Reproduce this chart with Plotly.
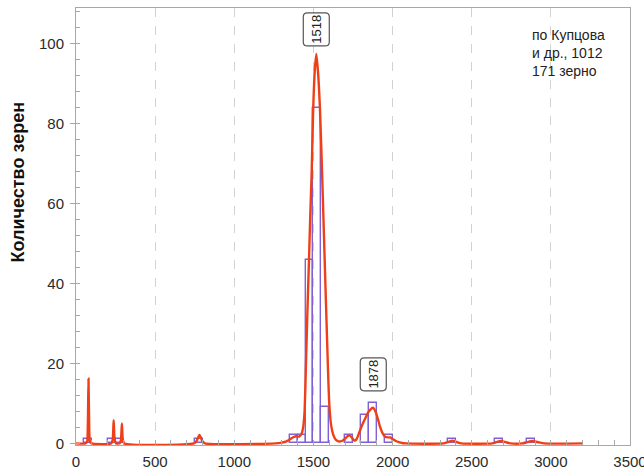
import plotly.graph_objects as go

# Histogram of grain ages (bin width 50 Ma): left edges and counts
bin_width = 50
bin_left = [50, 200, 250, 750, 1350, 1400, 1450, 1500, 1550, 1700, 1800, 1850, 1950, 2350, 2650, 2850]
bin_count = [1, 1, 1, 1, 2, 2, 46, 84, 9, 2, 7, 10, 2, 1, 1, 1]

# Probability density curve (age, value)
kde_age = [0, 60, 70, 75, 79, 83, 88, 98,
           222, 232, 238, 244, 254, 276, 284, 290, 296, 305,
           745, 762, 780, 798, 815,
           1260, 1300, 1330, 1355, 1375, 1392, 1410, 1425, 1435, 1444, 1453, 1462,
           1472, 1480, 1489, 1498, 1508, 1518, 1529, 1542, 1556, 1571, 1587, 1600,
           1612, 1625, 1640, 1658, 1680, 1700, 1715, 1728, 1742, 1758, 1772, 1790,
           1810, 1830, 1850, 1865, 1878, 1892, 1908, 1922, 1940, 1955, 1970, 1985,
           2000, 2020, 2040, 2060, 2085,
           2320, 2350, 2378, 2405, 2435,
           2630, 2655, 2685, 2715, 2745,
           2820, 2850, 2880, 2915, 2960, 3200]
kde_value = [0, 0, 0.4, 5, 16.2, 5, 0.4, 0,
             0, 1.0, 5.8, 1.0, 0, 0, 0.9, 5.0, 0.9, 0,
             0, 0.6, 2.1, 0.6, 0,
             0, 0.2, 0.5, 1.1, 1.6, 1.8, 1.7, 2.4, 4, 8, 20, 33,
             46, 57, 68, 83, 93, 97.5, 93, 83, 66, 46, 25, 10,
             4.5, 2.2, 1.0, 0.5, 0.6, 1.2, 1.8, 2.0, 1.5, 0.7, 1.0, 2.8,
             4.8, 6.5, 8.0, 8.7, 8.9, 8.0, 6.0, 4.0, 2.3, 1.6, 1.5, 1.5,
             1.1, 0.6, 0.3, 0.1, 0,
             0, 0.35, 0.7, 0.35, 0,
             0, 0.3, 0.6, 0.3, 0,
             0, 0.3, 0.6, 0.35, 0, 0]

# Peak labels
peak_ages = [1518, 1878]
peak_gap_px = [8, 17]

source_text = "по Купцова<br>и др., 1012<br>171 зерно"
y_title = "Количество зерен"

FONT = "Liberation Sans, Arial, sans-serif"
RED = "#ef3f17"
PURPLE = "#7f60d6"
AXIS = "#a8a8a8"

fig = go.Figure()

fig.add_trace(go.Bar(
    x=[b + bin_width / 2 for b in bin_left],
    y=bin_count,
    width=bin_width,
    marker=dict(color="rgba(0,0,0,0)", line=dict(color=PURPLE, width=1.4)),
    hoverinfo="x+y",
    showlegend=False,
))

fig.add_trace(go.Scatter(
    x=kde_age,
    y=kde_value,
    mode="lines",
    line=dict(color=RED, width=2.4, shape="spline", smoothing=0.6),
    showlegend=False,
))

# Rounded label boxes with rotated peak ages
box_w, box_h, r = 26, 33, 4
for age, gap in zip(peak_ages, peak_gap_px):
    peak_val = kde_value[kde_age.index(age)]
    x0, x1 = -box_w / 2, box_w / 2
    y0, y1 = gap, gap + box_h
    path = (f"M {x0 + r},{y0} L {x1 - r},{y0} Q {x1},{y0} {x1},{y0 + r} "
            f"L {x1},{y1 - r} Q {x1},{y1} {x1 - r},{y1} "
            f"L {x0 + r},{y1} Q {x0},{y1} {x0},{y1 - r} "
            f"L {x0},{y0 + r} Q {x0},{y0} {x0 + r},{y0} Z")
    fig.add_shape(
        type="path", xref="x", yref="y",
        xsizemode="pixel", ysizemode="pixel",
        xanchor=age, yanchor=peak_val,
        path=path,
        line=dict(color="#555555", width=1.2),
        fillcolor="white",
        layer="above",
    )
    fig.add_annotation(
        x=age, y=peak_val, xref="x", yref="y",
        text=str(age), textangle=-90, showarrow=False,
        yanchor="middle", xanchor="center",
        yshift=gap + box_h / 2,
        font=dict(family=FONT, size=13, color="#222222"),
    )

fig.add_annotation(
    xref="paper", yref="paper", x=0.8195, y=0.962,
    xanchor="left", yanchor="top", align="left",
    text=source_text, showarrow=False,
    font=dict(family=FONT, size=14, color="#222222"),
)

fig.add_annotation(
    xref="paper", yref="paper", x=-0.1047, y=0.603,
    xanchor="center", yanchor="middle", textangle=-90,
    text=f"<b>{y_title}</b>", showarrow=False,
    font=dict(family=FONT, size=18, color="#111111"),
)

fig.update_layout(
    width=644, height=470,
    margin=dict(l=76, r=14, t=8, b=25, autoexpand=False),
    paper_bgcolor="white", plot_bgcolor="white",
    font=dict(family=FONT, size=15, color="#2a2a2a"),
    bargap=0,
)

fig.update_xaxes(
    range=[0, 3500], dtick=500, tick0=0,
    automargin=False,
    showgrid=True, gridcolor="#d2d2d2", griddash="dash", gridwidth=1,
    zeroline=False,
    showline=True, linecolor=AXIS, linewidth=1, mirror=True,
    ticks="inside", ticklen=5, tickcolor=AXIS,
    minor=dict(dtick=100, ticks="inside", ticklen=5, tickcolor=AXIS, showgrid=False),
    ticklabelstandoff=3,
    ticklabeloverflow="allow",
)

fig.update_yaxes(
    range=[-0.4, 109], dtick=20, tick0=0,
    automargin=False,
    showgrid=False, zeroline=False,
    showline=True, linecolor=AXIS, linewidth=1, mirror=True,
    ticks="outside", ticklen=5, tickcolor=AXIS,
    minor=dict(dtick=4, ticks="inside", ticklen=4, tickcolor=AXIS, showgrid=False),
    ticklabelstandoff=3,
)

fig.write_html("out.html")
